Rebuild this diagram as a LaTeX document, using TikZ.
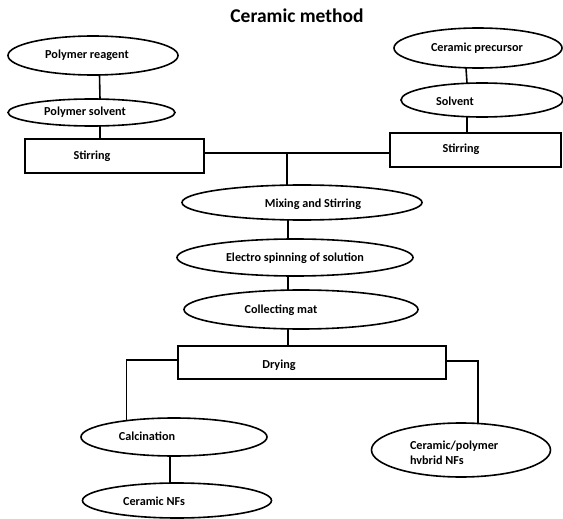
\documentclass[tikz,border=0pt]{standalone}
\usepackage{fontspec}
\setmainfont{Carlito}
\usetikzlibrary{shapes.geometric}
\begin{document}
\begin{tikzpicture}[x=1pt,y=-1pt,
  every node/.style={inner sep=0pt, outer sep=0pt},
  ell/.style={draw, ellipse, line width=1.6pt, fill=white},
  box/.style={draw, rectangle, line width=1.6pt, fill=white},
  lbl/.style={font=\bfseries\fontsize{12.2}{15}\selectfont, text height=1.6ex, text depth=.3ex},
  conn/.style={line width=1.6pt}]
\useasboundingbox (0,0) rectangle (563,519);
\node (title) at (297,16) {\bfseries\fontsize{19.5}{24}\selectfont Ceramic method};
% shapes
\node[ell, minimum width=170pt, minimum height=39pt] (pr) at (93,55.5) {};
\node[ell, minimum width=167pt, minimum height=27pt] (ps) at (91.5,112.5) {};
\node[box, minimum width=179pt, minimum height=34pt] (st1) at (114.5,156) {};
\node[ell, minimum width=168pt, minimum height=40pt] (cp) at (478,48) {};
\node[ell, minimum width=162pt, minimum height=34pt] (sv) at (482,100) {};
\node[box, minimum width=171pt, minimum height=34pt] (st2) at (475.5,150) {};
\node[ell, minimum width=240pt, minimum height=35pt] (mx) at (302,202.5) {};
\node[ell, minimum width=236pt, minimum height=37pt] (el) at (295,257.5) {};
\node[ell, minimum width=234pt, minimum height=39pt] (cm) at (301,309.5) {};
\node[box, minimum width=268pt, minimum height=33pt] (dr) at (312,362.5) {};
\node[ell, minimum width=186pt, minimum height=38pt] (ca) at (174,437) {};
\node[ell, minimum width=189pt, minimum height=35pt] (cn) at (177,500.5) {};
\node[ell, minimum width=179pt, minimum height=54pt] (hy) at (461,450) {};
% labels
\node[lbl] (tpr) at (87,55) {Polymer reagent};
\node[lbl] (tps) at (85,112) {Polymer solvent};
\node[lbl] (tst1) at (92,156) {Stirring};
\node[lbl] (tcp) at (477,48) {Ceramic precursor};
\node[lbl] (tsv) at (455,102) {Solvent};
\node[lbl] (tst2) at (461,149) {Stirring};
\node[lbl] (tmx) at (313,204) {Mixing and Stirring};
\node[lbl] (tel) at (295,258) {Electro spinning of solution};
\node[lbl] (tcm) at (281,310) {Collecting mat};
\node[lbl] (tdr) at (279,365) {Drying};
\node[lbl] (tca) at (147,437) {Calcination};
\node[lbl] (tcn) at (154,502) {Ceramic NFs};
\node[font=\bfseries\fontsize{12.2}{15}\selectfont, align=left, anchor=west] (thy) at (410,452.5) {Ceramic/polymer\\hvbrid NFs};
% connectors
\coordinate (j) at (287,153);
\draw[conn] ([xshift=6.5pt]pr.south) -- ([xshift=8.5pt]ps.north);
\draw[conn] ([xshift=8.5pt]ps.south) -- ([xshift=-14.5pt]st1.north);
\draw[conn] ([xshift=-12pt]cp.south) -- ([xshift=-15pt]sv.north);
\draw[conn] ([xshift=-15pt]sv.south) -- ([xshift=-8.5pt]st2.north);
\draw[conn] ([yshift=3pt]st1.east) -- ([yshift=-3pt]st2.west);
\draw[conn] (j) -- ([xshift=-15pt]mx.north);
\draw[conn] ([xshift=-14pt]mx.south) -- ([xshift=-7pt]el.north);
\draw[conn] ([xshift=-7pt]el.south) -- ([xshift=-13pt]cm.north);
\draw[conn] ([xshift=-13pt]cm.south) -- ([xshift=-24pt]dr.north);
\draw[conn] ([yshift=2.5pt]dr.west) -| (ca.161.7);
\draw[conn] ([yshift=1.5pt]dr.east) -| (hy.57.3);
\draw[conn] ([xshift=-4pt]ca.south) -- ([xshift=-7pt]cn.north);
\end{tikzpicture}
\end{document}
